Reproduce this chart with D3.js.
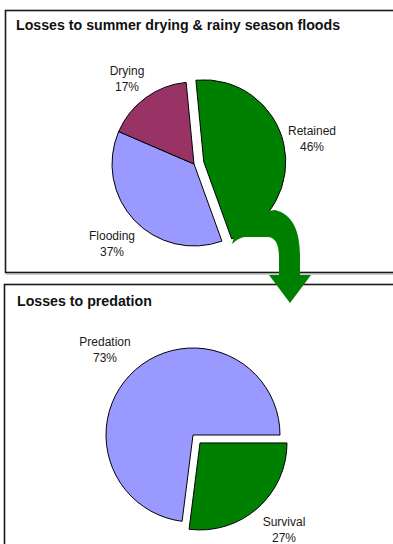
<!DOCTYPE html>
<html>
<head>
<meta charset="utf-8">
<script src="https://cdn.jsdelivr.net/npm/d3@7"></script>
<style>
  html, body { margin: 0; padding: 0; background: #fff; }
  svg { display: block; }
</style>
</head>
<body>
<script>
// Stage 1: losses to summer drying & rainy season floods
const stage1Categories = ["Retained", "Flooding", "Drying"];
const stage1Values = [46, 37, 17];
const stage1Colors = ["#008000", "#9999ff", "#993366"];

// Stage 2: losses to predation
const stage2Categories = ["Survival", "Predation"];
const stage2Values = [27, 73];
const stage2Colors = ["#008000", "#9999ff"];

const W = 393, H = 544;
const svg = d3.select("body").append("svg")
  .attr("width", W).attr("height", H)
  .style("font-family", "'Liberation Sans', Arial, sans-serif");

// panel frames
svg.append("rect").attr("x", 5.5).attr("y", 10.5).attr("width", 400).attr("height", 262)
  .attr("fill", "#fff").attr("stroke", "#1a1a1a").attr("stroke-width", 1.6);
svg.append("line").attr("x1", 6).attr("x2", 400).attr("y1", 274).attr("y2", 274)
  .attr("stroke", "#9a9a9a").attr("stroke-width", 1);
svg.append("rect").attr("x", 4.5).attr("y", 284.5).attr("width", 400).attr("height", 300)
  .attr("fill", "#fff").attr("stroke", "#1a1a1a").attr("stroke-width", 1.6);

svg.append("text").attr("x", 16).attr("y", 30)
  .attr("font-size", 14.2).attr("font-weight", "bold").attr("fill", "#111")
  .text("Losses to summer drying & rainy season floods");
svg.append("text").attr("x", 17).attr("y", 306)
  .attr("font-size", 14.2).attr("font-weight", "bold").attr("fill", "#111")
  .text("Losses to predation");

function drawPie(cfg) {
  const data = cfg.categories.map((c, i) => ({ name: c, value: cfg.values[i], color: cfg.colors[i] }));
  const pie = d3.pie().sort(null).value(d => d.value)
    .startAngle(cfg.start).endAngle(cfg.start + 2 * Math.PI);
  const arc = d3.arc().innerRadius(0).outerRadius(cfg.r);
  const g = svg.append("g").attr("transform", `translate(${cfg.cx},${cfg.cy})`);
  const arcs = pie(data);
  arcs.forEach(a => {
    const mid = (a.startAngle + a.endAngle) / 2;
    const off = a.data.name === cfg.exploded ? cfg.offset : 0;
    a.dx = Math.sin(mid) * off;
    a.dy = -Math.cos(mid) * off;
  });
  g.selectAll("path.slice").data(arcs).join("path")
    .attr("class", "slice")
    .attr("transform", d => `translate(${d.dx},${d.dy})`)
    .attr("d", arc)
    .attr("fill", d => d.data.color)
    .attr("stroke", "#000").attr("stroke-width", 1)
    .attr("stroke-linejoin", "round");
  return { g, arcs };
}

drawPie({
  categories: stage1Categories, values: stage1Values, colors: stage1Colors,
  cx: 194, cy: 164, r: 82, start: -5.5 * Math.PI / 180,
  exploded: "Retained", offset: 10
});

// arrow carrying the retained share down to the next stage
svg.append("path")
  .attr("d", "M275,210 C292,214 300,230 300,256 L300,275 L311,275 L290,303 L269,275 L279,275 " +
             "L279,258 C279,245 276,237 267,237 L245,237 Q238,238 232,244 L240,215 Z")
  .attr("fill", "#008000");

drawPie({
  categories: stage2Categories, values: stage2Values, colors: stage2Colors,
  cx: 193, cy: 435, r: 87, start: Math.PI / 2,
  exploded: "Survival", offset: 10.6
});

// slice labels
const labelPos1 = [[312, 131], [112, 236], [127, 71]];
const labelPos2 = [[284, 522], [105, 342]];
function labels(cats, vals, pos) {
  cats.forEach((c, i) => {
    const t = svg.append("text").attr("text-anchor", "middle")
      .attr("font-size", 12).attr("fill", "#1a1a1a");
    t.append("tspan").attr("x", pos[i][0]).attr("y", pos[i][1] + 4).text(c);
    t.append("tspan").attr("x", pos[i][0]).attr("y", pos[i][1] + 20).text(vals[i] + "%");
  });
}
labels(stage1Categories, stage1Values, labelPos1);
labels(stage2Categories, stage2Values, labelPos2);
</script>
</body>
</html>
